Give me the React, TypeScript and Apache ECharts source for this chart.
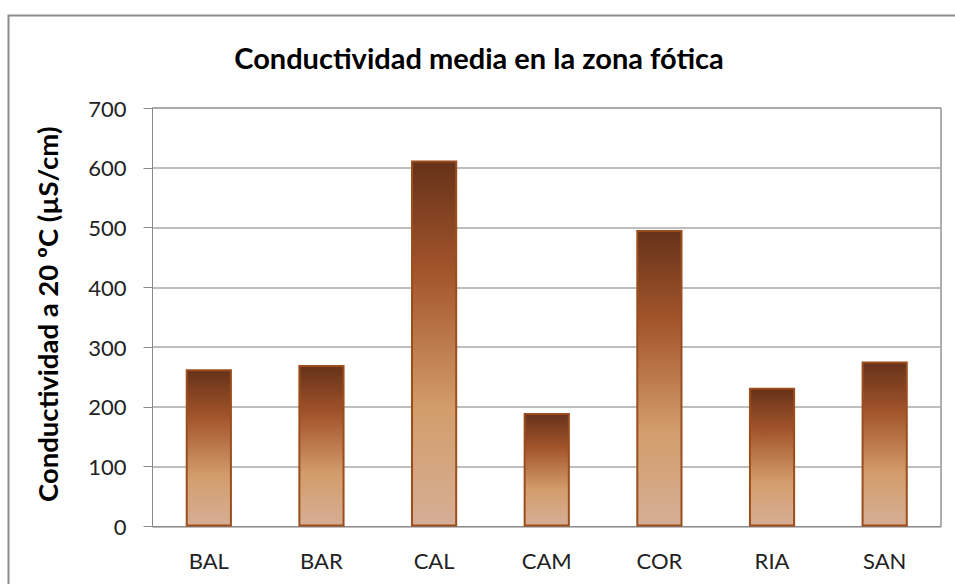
import React, { useEffect, useRef } from "react";
import * as echarts from "echarts";

const categories = ["BAL", "BAR", "CAL", "CAM", "COR", "RIA", "SAN"];
const conductivity = [263, 270, 612, 190, 496, 232, 276];
const yTicks = { min: 0, max: 700, interval: 100 };
const titleText = "Conductividad media en la zona fótica";
const yAxisName = "Conductividad a 20 ºC (µS/cm)";

export default function App() {
  const ref = useRef<HTMLDivElement>(null);
  useEffect(() => {
    if (!ref.current) return;
    const chart = echarts.init(ref.current, undefined, { renderer: "svg" });
    const font = "Lato, 'Open Sans', sans-serif";
    chart.setOption({
      animation: false,
      backgroundColor: "#ffffff",
      title: {
        text: titleText,
        left: 474,
        textAlign: "center",
        top: 38,
        textStyle: { fontFamily: font, fontWeight: "bold", fontSize: 29, color: "#000" },
      },
      graphic: [
        {
          type: "rect",
          shape: { x: 8.5, y: 15.5, width: 1000, height: 700 },
          style: { fill: "none", stroke: "#8c8c8c", lineWidth: 2 },
          silent: true,
          z: -1,
        },
      ],
      grid: {
        left: 152.5,
        right: 14,
        top: 108,
        bottom: 57.5,
        show: true,
        borderColor: "#5f5f5f",
        borderWidth: 1,
        containLabel: false,
      },
      xAxis: {
        type: "category",
        data: categories,
        axisLine: { show: true, lineStyle: { color: "#8a8a8a", width: 1 } },
        axisTick: { show: false },
        axisLabel: { fontFamily: font, fontSize: 22, color: "#222", margin: 23 },
        splitLine: { show: false },
      },
      yAxis: {
        type: "value",
        min: yTicks.min,
        max: yTicks.max,
        interval: yTicks.interval,
        name: yAxisName,
        nameLocation: "middle",
        nameGap: 91,
        nameRotate: 90,
        nameTextStyle: { fontFamily: font, fontWeight: "bold", fontSize: 27.5, color: "#000", padding: [0, 0, 0, 6] },
        axisLine: { show: true, lineStyle: { color: "#8a8a8a", width: 1 } },
        axisTick: { show: true, inside: false, length: 9, lineStyle: { color: "#8a8a8a" } },
        axisLabel: { fontFamily: font, fontSize: 22, color: "#222", margin: 26 },
        splitLine: { show: true, lineStyle: { color: "#a8a8a8", width: 1.5 } },
      },
      series: [
        {
          type: "bar",
          data: conductivity,
          barWidth: "41%",
          itemStyle: {
            borderColor: "#9c4d1c",
            borderWidth: 2,
            color: new echarts.graphic.LinearGradient(0, 0, 0, 1, [
              { offset: 0, color: "#66321a" },
              { offset: 0.3, color: "#a3542b" },
              { offset: 0.68, color: "#d39d6b" },
              { offset: 1, color: "#d6ae96" },
            ]),
          },
        },
      ],
    });
    return () => chart.dispose();
  }, []);
  return (
    <div
      ref={ref}
      style={{ position: "fixed", left: 0, top: 0, width: 955, height: 584 }}
    />
  );
}
